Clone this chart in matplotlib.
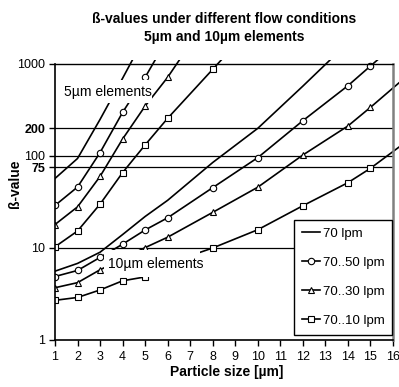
import matplotlib
matplotlib.use('Agg')
import matplotlib.pyplot as plt
from matplotlib.patches import Rectangle
from matplotlib.lines import Line2D

plt.rcParams['font.family'] = ['Liberation Sans', 'DejaVu Sans']

# ---- data ----
labels = ['70 lpm', '70..50 lpm', '70..30 lpm', '70..10 lpm']
markers = [None, 'o', '^', 's']

# 5 µm elements
x5_70 = [1, 2, 3, 4, 5]
b5_70 = [57, 94, 250, 700, 2000]
x5_50 = [1, 2, 3, 4, 5, 6]
b5_50 = [29, 46, 109, 298, 717, 1900]
x5_30 = [1, 2, 3, 4, 5, 6, 8]
b5_30 = [18, 28, 60, 153, 349, 717, 3800]
x5_10 = [1, 2, 3, 4, 5, 6, 8, 10]
b5_10 = [10.3, 15.3, 30, 66, 132, 257, 876, 3000]

# 10 µm elements
x10_70 = [1, 2, 3, 4, 5, 6, 8, 10, 12, 14]
b10_70 = [5.6, 6.8, 9.0, 14, 22, 33, 85, 200, 575, 1700]
x10_50 = [1, 2, 3, 4, 5, 6, 8, 10, 12, 14, 15, 16]
b10_50 = [4.9, 5.7, 7.9, 11.0, 15.7, 21.3, 45.3, 96, 242, 581, 951, 1550]
x10_30 = [1, 2, 3, 4, 5, 6, 8, 10, 12, 14, 15, 17]
b10_30 = [3.7, 4.2, 5.8, 7.6, 10.1, 13.1, 24.4, 45.8, 102.5, 212, 338, 890]
x10_10 = [1, 2, 3, 4, 5, 6, 8, 10, 12, 14, 15, 17]
b10_10 = [2.7, 2.9, 3.5, 4.4, 4.85, 6.8, 10.0, 15.8, 28.8, 51.3, 73.5, 170]

ref_levels = [10, 75, 100, 200]
ytick_vals = [1, 10, 75, 100, 200, 1000]
ytick_labels = ['1', '10', '75', '100', '200', '1000']
bold_ticks = ['75', '200']
xtick_vals = list(range(1, 17))

title1 = 'ß-values under different flow conditions'
title2 = '5µm and 10µm elements'

# ---- figure ----
fig = plt.figure(figsize=(3.99, 3.87), dpi=100)
ax = fig.add_axes([55 / 399, 47 / 387, 338 / 399, 276 / 387])
ax.set_yscale('log')
ax.set_xlim(1, 16)
ax.set_ylim(1, 1000)

for v in ref_levels:
    ax.axhline(v, color='black', lw=0.9, zorder=1)

clip_rect = Rectangle((0, 0), 1.02, 1.013, transform=ax.transAxes)

series5 = [(x5_70, b5_70), (x5_50, b5_50), (x5_30, b5_30), (x5_10, b5_10)]
series10 = [(x10_70, b10_70), (x10_50, b10_50), (x10_30, b10_30), (x10_10, b10_10)]

msize = {'o': 4.6, '^': 4.2, 's': 4.3}
handles = []
for group in (series5, series10):
    for (xs, ys), lab, m in zip(group, labels, markers):
        kw = dict(color='black', lw=1.2, zorder=2)
        if m is not None:
            kw.update(marker=m, markersize=msize[m], markerfacecolor='white',
                      markeredgecolor='black', markeredgewidth=0.8)
        ln, = ax.plot(xs, ys, **kw)
        ln.set_clip_path(clip_rect)
        if group is series5:
            h = Line2D([], [], **kw)
            h.set_label(lab)
            handles.append(h)

# label boxes that hide the lines
ax.add_patch(Rectangle((0.020, 0.859), 0.267, 0.083, transform=ax.transAxes,
                       facecolor='white', edgecolor='none', zorder=3))
ax.text(0.0276, 0.897, '5µm elements', transform=ax.transAxes, ha='left',
        va='center', fontsize=10, zorder=4)
ax.add_patch(Rectangle((0.145, 0.228), 0.285, 0.098, transform=ax.transAxes,
                       facecolor='white', edgecolor='none', zorder=3))
ax.text(0.157, 0.275, '10µm elements', transform=ax.transAxes, ha='left',
        va='center', fontsize=10, zorder=4)

# axes styling
ax.set_yticks(ytick_vals)
ax.set_yticklabels(ytick_labels)
ax.minorticks_off()
for t in ax.get_yticklabels():
    if t.get_text() in bold_ticks:
        t.set_fontweight('bold')
        t.set_fontsize(7)
ax.set_xticks(xtick_vals)
ax.set_xticklabels([str(v) for v in xtick_vals])
ax.tick_params(axis='y', direction='out', length=4, width=1, pad=3, labelsize=9)
ax.tick_params(axis='x', direction='out', length=4, width=1, pad=4, labelsize=9)

ax.spines['top'].set_color('black')
ax.spines['top'].set_linewidth(1.0)
ax.spines['right'].set_color('#808080')
ax.spines['right'].set_linewidth(1.8)
ax.spines['left'].set_linewidth(1.2)
ax.spines['bottom'].set_linewidth(1.2)

ax.set_xlabel('Particle size [µm]', fontsize=10, fontweight='bold')
ax.xaxis.set_label_coords(0.508, -0.09)
ax.set_ylabel('ß-value', fontsize=10, fontweight='bold', va='center')
ax.yaxis.set_label_coords(-0.118, 0.567)

leg = ax.legend(handles=handles, loc='upper left', bbox_to_anchor=(0.706, 0.435),
                fontsize=9.5, frameon=True, fancybox=False, edgecolor='black',
                framealpha=1, handlelength=1.4, handletextpad=0.2,
                labelspacing=1.27, borderpad=0.6, borderaxespad=0)
leg.get_frame().set_linewidth(1.0)
leg.set_zorder(5)

fig.text(224 / 399, 1 - 19 / 387, title1, ha='center', va='center',
         fontsize=10, fontweight='bold')
fig.text(224 / 399, 1 - 37 / 387, title2, ha='center', va='center',
         fontsize=10, fontweight='bold')

fig.savefig('out.png', dpi=100)
